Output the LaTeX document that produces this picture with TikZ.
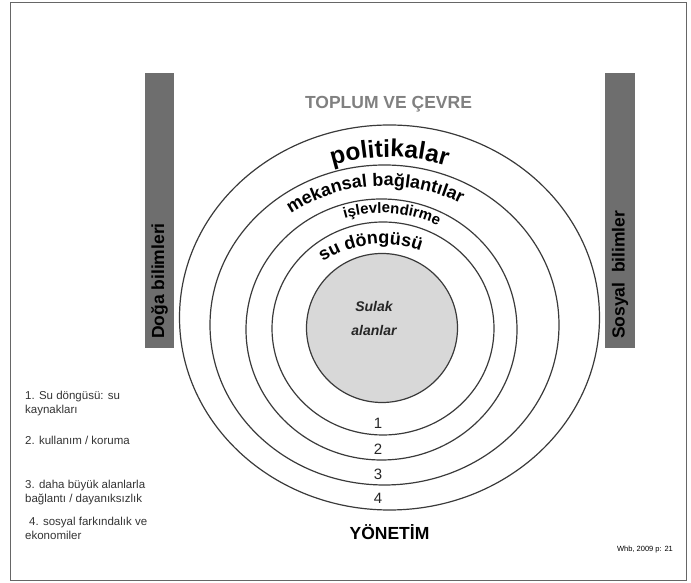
\documentclass[tikz,border=0pt]{standalone}
\usepackage{fontspec}
\setmainfont{Liberation Sans}
\usetikzlibrary{shapes.geometric,decorations.text}

\definecolor{ringline}{HTML}{3A3A3A}
\definecolor{coregrey}{HTML}{D8D8D8}
\definecolor{bargrey}{HTML}{6E6E6E}
\definecolor{titlegrey}{HTML}{808080}
\definecolor{legendtext}{HTML}{333333}

\begin{document}
\begin{tikzpicture}[x=1pt,y=1pt,
    ring/.style={ellipse,draw=ringline,line width=1.2pt,inner sep=0pt},
    bar/.style={fill=bargrey,inner sep=0pt},
    bartext/.style={rotate=90,anchor=west,inner sep=0pt,font=\fontsize{17.5}{20}\selectfont\bfseries},
    num/.style={font=\fontsize{15}{15}\selectfont,text=black!85},
    legend/.style={anchor=west,align=left,inner sep=0pt,text=legendtext,font=\fontsize{11.5}{14}\selectfont},
    arctext/.style={decorate,decoration={text along path,text align=center,text={#1}}}
  ]
    \useasboundingbox (0,0) rectangle (691,583);
    \draw[gray!80!black,line width=1pt] (10,2) rectangle (686,580);

    \node[bar,minimum width=29,minimum height=275] (doga) at (159.5,372.5) {};
    \node[bar,minimum width=30,minimum height=275] (sosyal) at (620,372.5) {};
    \node[bartext] (dogatext) at ([yshift=9]doga.south) {Doğa bilimleri};
    \node[bartext] (sosyaltext) at ([yshift=9]sosyal.south) {Sosyal\ \ bilimler};

    \node[font=\fontsize{17.5}{18}\selectfont\bfseries,text=titlegrey] (toplum) at (388.5,478.5) {TOPLUM VE ÇEVRE};

    \node[ring,minimum width=420,minimum height=385] (ring4) at (389.5,265.5) {};
    \node[ring,minimum width=349,minimum height=320] (ring3) at (384.5,258) {};
    \node[ring,minimum width=271,minimum height=261] (ring2) at (381.5,253.5) {};
    \node[ring,minimum width=222,minimum height=213] (ring1) at (383,254.5) {};
    \node[ring,fill=coregrey,minimum width=151,minimum height=149] (core) at (382,255) {};
    \node[font=\fontsize{14}{24}\selectfont\bfseries\itshape,align=center,text=black!85] (wet) at ([xshift=-8,yshift=9]core.center) {Sulak\\alanlar};

    \path[arctext={|\fontsize{24.5}{25}\selectfont\bfseries|politikalar}]
      ([shift={(135:175 and 160.5)}]ring4.center) arc[start angle=135,end angle=45,x radius=175,y radius=160.5];
    \path[arctext={|\fontsize{18}{18}\selectfont\bfseries|mekansal bağlantılar}]
      ([shift={(154:156 and 139)}]ring3.center) arc[start angle=154,end angle=34,x radius=156,y radius=139];
    \path[arctext={|\fontsize{15}{15}\selectfont\bfseries|işlevlendirme}]
      ([shift={(135:125 and 116.5)}]ring2.center) arc[start angle=135,end angle=35,x radius=125,y radius=116.5];
    \path[arctext={|\fontsize{18}{18}\selectfont\bfseries|su döngüsü}]
      ([shift={(148:97 and 84.5)}]ring1.center) arc[start angle=148,end angle=48,x radius=97,y radius=84.5];

    \foreach \n/\y in {1/160,2/134,3/109,4/85}
      \node[num] (num\n) at (378,\y) {\n};

    \node[font=\fontsize{17.5}{18}\selectfont\bfseries] (yonetim) at (389.5,51) {YÖNETİM};

    \node[legend] (leg1) at (25,179) {1. Su döngüsü: su\\kaynakları};
    \node[legend] (leg2) at (25,143) {2. kullanım / koruma};
    \node[legend] (leg3) at (25,90) {3. daha büyük alanlarla\\bağlantı / dayanıksızlık};
    \node[legend] (leg4) at (25,54.5) {\hspace{4pt}4. sosyal farkındalık ve\\ekonomiler};

    \node[font=\fontsize{7.5}{8}\selectfont] (source) at (645,33) {Whb, 2009 p: 21};
  \end{tikzpicture}
\end{document}
